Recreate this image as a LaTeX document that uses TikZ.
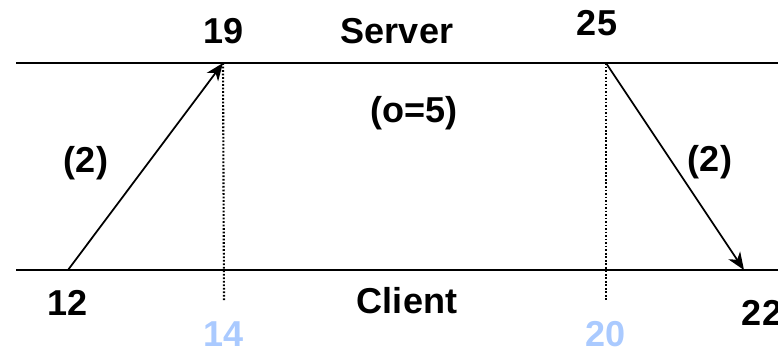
\documentclass[tikz,border=0pt]{standalone}
\usepackage{fontspec}
\setmainfont{Liberation Sans}
\usetikzlibrary{arrows.meta}
\definecolor{paleblue}{RGB}{170,202,255}

\begin{document}
\begin{tikzpicture}[x=0.02cm,y=-0.02cm,>={Stealth[length=10pt,width=8pt,inset=3pt]},
  line width=1.1pt,
  big label/.style={font=\fontsize{20.5}{24}\selectfont\bfseries},
  ghost label/.style={big label,text=paleblue},
  guide/.style={dash pattern=on 1pt off 1pt,line width=1.2pt}]
  \useasboundingbox (0,0) rectangle (778,352);

  \coordinate (s0) at (16,63);
  \coordinate (s1) at (778,63);
  \coordinate (c0) at (16,270);
  \coordinate (c1) at (778,270);

  \coordinate (t12) at (68,270);
  \coordinate (t19) at (223,63);
  \coordinate (t25) at (606,63);
  \coordinate (t22) at (744,270);

  \coordinate (g14) at (224,300);
  \coordinate (g20) at (606,300);

  \node[big label] (server) at (397,31) {Server};
  \node[big label] (client) at (407,301) {Client};
  \node[big label] (n19) at (224,31) {19};
  \node[big label] (n25) at (597,23) {25};
  \node[big label] (n12) at (68,303) {12};
  \node[big label] (n22) at (762,313) {22};
  \node[big label] (gap) at (414,113) {(o=5)};
  \node[big label] (up) at (86,163) {(2)};
  \node[big label] (down) at (710,162) {(2)};
  \node[ghost label] (n14) at (224,334) {14};
  \node[ghost label] (n20) at (606,334) {20};

  \draw (s0) -- (s1);
  \draw (c0) -- (c1);
  \draw[guide] (t19) -- (g14);
  \draw[guide] (t25) -- (g20);
  \draw[->,line width=1pt] (t12) -- (t19);
  \draw[->,line width=1pt] (t25) -- (t22);

\end{tikzpicture}
\end{document}
